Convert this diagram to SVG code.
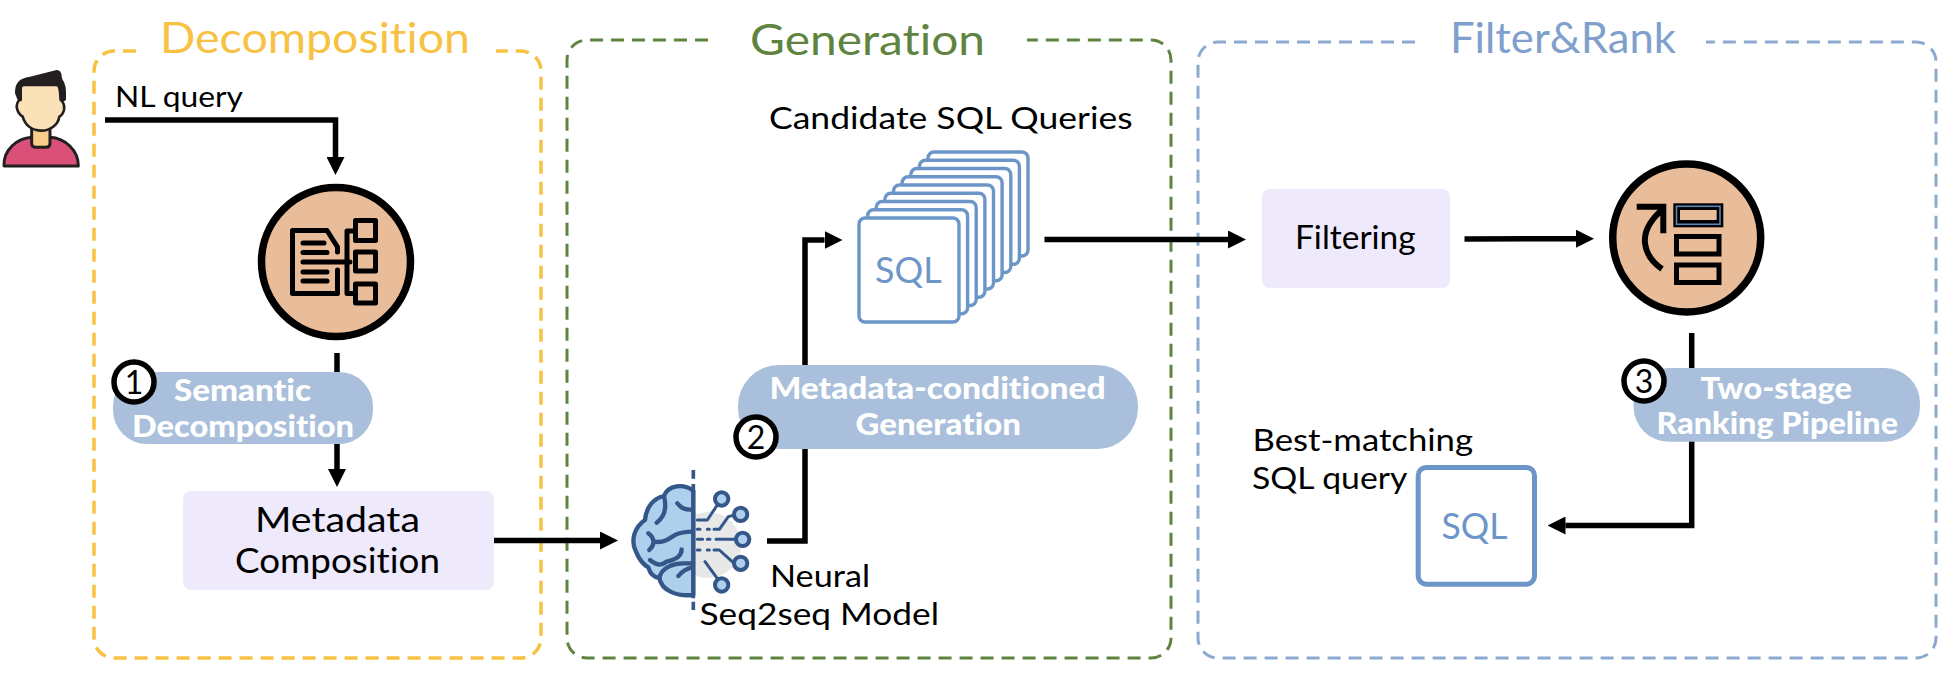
<svg xmlns="http://www.w3.org/2000/svg" width="1956" height="680" viewBox="0 0 1956 680">
<style>
text{font-family:"Lato","Liberation Sans",sans-serif;fill:#000;font-size:31px;font-variant-ligatures:none}
.title{font-size:43px}
.pill{fill:#A9BFDB}
.pt{font-weight:900;fill:#fff;font-size:30px}
.box{fill:#EEEAFB}
.cont{fill:none;stroke-width:3.5;stroke-dasharray:13 8}
.conn{fill:none;stroke:#000;stroke-width:5.5}
.badge{fill:#fff;stroke:#000;stroke-width:5.5}
.big{fill:#EABD9A;stroke:#000;stroke-width:7.5}
.ic{fill:none;stroke:#000;stroke-width:5;stroke-linejoin:round;stroke-linecap:round}
.card{fill:#fff;stroke:#6C96C8;stroke-width:3.4}
.sql{fill:#6C96C8;font-size:36px}
.br{fill:none;stroke:#34578A;stroke-width:13;stroke-linecap:round;stroke-linejoin:round}
.cc{fill:#AED0EC;stroke:#34578A;stroke-width:12}
</style>
<defs>
<marker id="ah" markerUnits="userSpaceOnUse" markerWidth="18" markerHeight="18" refX="0" refY="9" orient="auto"><path d="M0,0L18,9L0,18Z" fill="#000"/></marker>
</defs>
<rect width="1956" height="680" fill="#fff"/>
<g id="containers">
<path class="cont" stroke="#F7C243" d="M136,51H114A20,20 0 0 0 94,71V638A20,20 0 0 0 114,658H521A20,20 0 0 0 541,638V71A20,20 0 0 0 521,51H496"/>
<path class="cont" stroke="#5F8440" style="stroke-width:3" d="M708,40H587A20,20 0 0 0 567,60V638A20,20 0 0 0 587,658H1151A20,20 0 0 0 1171,638V60A20,20 0 0 0 1151,40H1027"/>
<path class="cont" stroke="#8CAAD0" style="stroke-width:3" d="M1415,42H1218A20,20 0 0 0 1198,62V638A20,20 0 0 0 1218,658H1916A20,20 0 0 0 1936,638V62A20,20 0 0 0 1916,42H1706"/>
<text class="title" x="160" y="53" textLength="310" lengthAdjust="spacingAndGlyphs" style="fill:#F7C243">Decomposition</text>
<text class="title" x="750" y="55" textLength="235" lengthAdjust="spacingAndGlyphs" style="fill:#5F8440">Generation</text>
<text class="title" x="1450" y="53" textLength="226" lengthAdjust="spacingAndGlyphs" style="fill:#7FA0CC">Filter&amp;Rank</text>
</g>
<g id="connectors">
<path class="conn" d="M105,120H335.5V157" marker-end="url(#ah)"/>
<path class="conn" d="M337,353V469" marker-end="url(#ah)"/>
<path class="conn" d="M492.5,540.5H600" marker-end="url(#ah)"/>
<path class="conn" d="M767,541H805V240H824.5" marker-end="url(#ah)"/>
<path class="conn" d="M1044.5,239.5H1228" marker-end="url(#ah)"/>
<path class="conn" d="M1464.5,239L1576,238.7" marker-end="url(#ah)"/>
<path class="conn" d="M1691.7,333V525.5H1565.5" marker-end="url(#ah)"/>
</g>
<g id="user" transform="translate(0,60) scale(.3333)">
<path d="M12,318C10,270 50,235 95,232H150C195,235 235,270 235,318Z" fill="#DB5079" stroke="#231F20" stroke-width="9" stroke-linejoin="round"/>
<path d="M95,205V250Q95,262 108,262H137Q150,262 150,250V205Z" fill="#F8CE88" stroke="#231F20" stroke-width="9"/>
<path d="M45,100C45,70 55,55 90,50L170,30Q185,30 185,50L188,60Q200,70 198,120L190,125H55Z" fill="#231F20"/>
<path d="M72,75H170Q180,75 182,120Q195,130 192,150Q188,165 178,170C175,195 150,212 125,212C95,212 75,195 68,170Q52,160 50,140Q52,120 62,120V85Q62,75 72,75Z" fill="#FBE1B8" stroke="#231F20" stroke-width="8" stroke-linejoin="round"/>
</g>
<text id="nl-query" x="115" y="107" textLength="128" lengthAdjust="spacingAndGlyphs" style="font-size:29px">NL query</text>
<g id="decomposition-icon">
<circle class="big" cx="336" cy="262" r="74.5"/>
<path class="ic" d="M337.5,252V247L327,230.5H292.5V293.5H337.5V270"/>
<path class="ic" d="M303,243H324M303,252.5H327M303,262H350M303,272H327M303,281H327"/>
<path class="ic" d="M355,231H347V293.5H355"/>
<rect class="ic" x="355.5" y="220.5" width="20" height="20"/>
<rect class="ic" x="355.5" y="252" width="20" height="19"/>
<rect class="ic" x="355.5" y="284" width="20" height="19"/>
</g>
<g id="semantic-decomposition">
<rect class="pill" x="113" y="372" width="260" height="72" rx="34"/>
<text class="pt" x="174" y="400.5" textLength="137" lengthAdjust="spacingAndGlyphs">Semantic</text>
<text class="pt" x="132" y="437" textLength="222" lengthAdjust="spacingAndGlyphs">Decomposition</text>
<circle class="badge" cx="134" cy="382" r="20"/>
<text x="134" y="394" text-anchor="middle" style="font-size:32px">1</text>
</g>
<g id="metadata-composition">
<rect class="box" x="183" y="491" width="311" height="99" rx="8"/>
<text x="255" y="532" textLength="165" lengthAdjust="spacingAndGlyphs" style="font-size:34px">Metadata</text>
<text x="235" y="573" textLength="205" lengthAdjust="spacingAndGlyphs" style="font-size:34px">Composition</text>
</g>
<g id="neural-model">
<circle cx="708" cy="545" r="33" fill="#E8E8E8"/>
<g transform="translate(620,470) scale(.3333)">
<path d="M220,62C190,40 145,45 132,78C98,85 78,115 75,150C45,170 30,210 48,245C58,270 72,285 85,292C90,312 102,322 118,324C125,362 170,380 220,375Z" fill="#AED0EC" stroke="#34578A" stroke-width="13" stroke-linejoin="round"/>
<path class="br" d="M172,100C185,118 205,120 218,118M132,78C140,110 135,140 110,158M85,190C105,205 105,225 88,240M105,215C130,220 150,205 165,195C185,185 200,185 218,185M185,238C185,260 165,270 140,275C125,285 115,290 90,270M118,324C125,290 165,280 190,280C205,280 215,280 218,280M175,318C185,305 200,295 218,292"/>
<path class="br" d="M220,0V26M220,42V385M220,395V420" style="stroke-width:11;stroke-linecap:butt"/>
<path class="br" d="M232,150H262L292,105M232,178H240M262,178H268M282,178H298L325,140L345,135M232,208H248M262,208H270M288,208H348M232,240H240M262,240H268M282,240H298L340,278M255,275L295,330" style="stroke-width:9"/>
<circle class="cc" cx="305" cy="87" r="20"/>
<circle class="cc" cx="362" cy="133" r="20"/>
<circle class="cc" cx="368" cy="208" r="20"/>
<circle class="cc" cx="362" cy="280" r="20"/>
<circle class="cc" cx="305" cy="345" r="20"/>
</g>
<text x="770" y="587" textLength="100" lengthAdjust="spacingAndGlyphs">Neural</text>
<text x="699.6" y="625" textLength="239.4" lengthAdjust="spacingAndGlyphs">Seq2seq Model</text>
</g>
<g id="metadata-conditioned-generation">
<rect class="pill" x="738" y="365" width="400" height="84" rx="41"/>
<text class="pt" x="769.4" y="399" textLength="336.3" lengthAdjust="spacingAndGlyphs">Metadata-conditioned</text>
<text class="pt" x="855.5" y="435" textLength="165.5" lengthAdjust="spacingAndGlyphs">Generation</text>
<circle class="badge" cx="756" cy="437" r="20"/>
<text x="756" y="449" text-anchor="middle" style="font-size:32px">2</text>
</g>
<g id="candidate-sql">
<text x="769" y="129" textLength="363.6" lengthAdjust="spacingAndGlyphs">Candidate SQL Queries</text>
<rect class="card" x="928" y="152" width="100" height="104" rx="6"/>
<rect class="card" x="919.4" y="160.3" width="100" height="104" rx="6"/>
<rect class="card" x="910.8" y="168.5" width="100" height="104" rx="6"/>
<rect class="card" x="902.1" y="176.8" width="100" height="104" rx="6"/>
<rect class="card" x="893.5" y="185" width="100" height="104" rx="6"/>
<rect class="card" x="884.9" y="193.3" width="100" height="104" rx="6"/>
<rect class="card" x="876.2" y="201.5" width="100" height="104" rx="6"/>
<rect class="card" x="867.6" y="209.8" width="100" height="104" rx="6"/>
<rect class="card" x="859" y="218" width="100" height="104" rx="6"/>
<text class="sql" x="875" y="283" textLength="66.6" lengthAdjust="spacingAndGlyphs">SQL</text>
</g>
<g id="filtering">
<rect class="box" x="1262" y="189" width="188" height="99" rx="8"/>
<text x="1295" y="249" textLength="120.7" lengthAdjust="spacingAndGlyphs" style="font-size:33px">Filtering</text>
</g>
<g id="ranking-icon">
<circle class="big" cx="1686.7" cy="238" r="74"/>
<rect x="1673.3" y="203.3" width="50" height="24" fill="#000"/>
<rect x="1676.5" y="206.3" width="43.5" height="18" fill="none" stroke="#5B84B8" stroke-width="1.6"/>
<rect x="1680" y="210" width="36.7" height="10" fill="#EABD9A"/>
<rect x="1676.5" y="236.5" width="42.5" height="17.5" fill="#EABD9A" stroke="#000" stroke-width="5"/>
<rect x="1676.5" y="265" width="42.5" height="17.5" fill="#EABD9A" stroke="#000" stroke-width="5"/>
<path d="M1636.7,206.7H1663.3V233.3M1663,209C1649,221 1644,233 1645,243C1646,253 1652,262 1662,269" fill="none" stroke="#000" stroke-width="6"/>
</g>
<g id="two-stage-ranking">
<rect class="pill" x="1633.6" y="368" width="286.4" height="73.7" rx="35"/>
<text class="pt" x="1700.5" y="399" textLength="151.5" lengthAdjust="spacingAndGlyphs">Two-stage</text>
<text class="pt" x="1656.5" y="434" textLength="241.5" lengthAdjust="spacingAndGlyphs">Ranking Pipeline</text>
<circle class="badge" cx="1644" cy="381" r="20"/>
<text x="1644" y="393" text-anchor="middle" style="font-size:32px">3</text>
</g>
<g id="best-sql">
<text x="1252.5" y="451" textLength="220.5" lengthAdjust="spacingAndGlyphs">Best-matching</text>
<text x="1252" y="489" textLength="155.4" lengthAdjust="spacingAndGlyphs">SQL query</text>
<rect x="1418.2" y="467.5" width="116.3" height="116.7" rx="8" fill="#fff" stroke="#6C96C8" stroke-width="5"/>
<text class="sql" x="1441.6" y="539" textLength="65.9" lengthAdjust="spacingAndGlyphs">SQL</text>
</g>
</svg>
